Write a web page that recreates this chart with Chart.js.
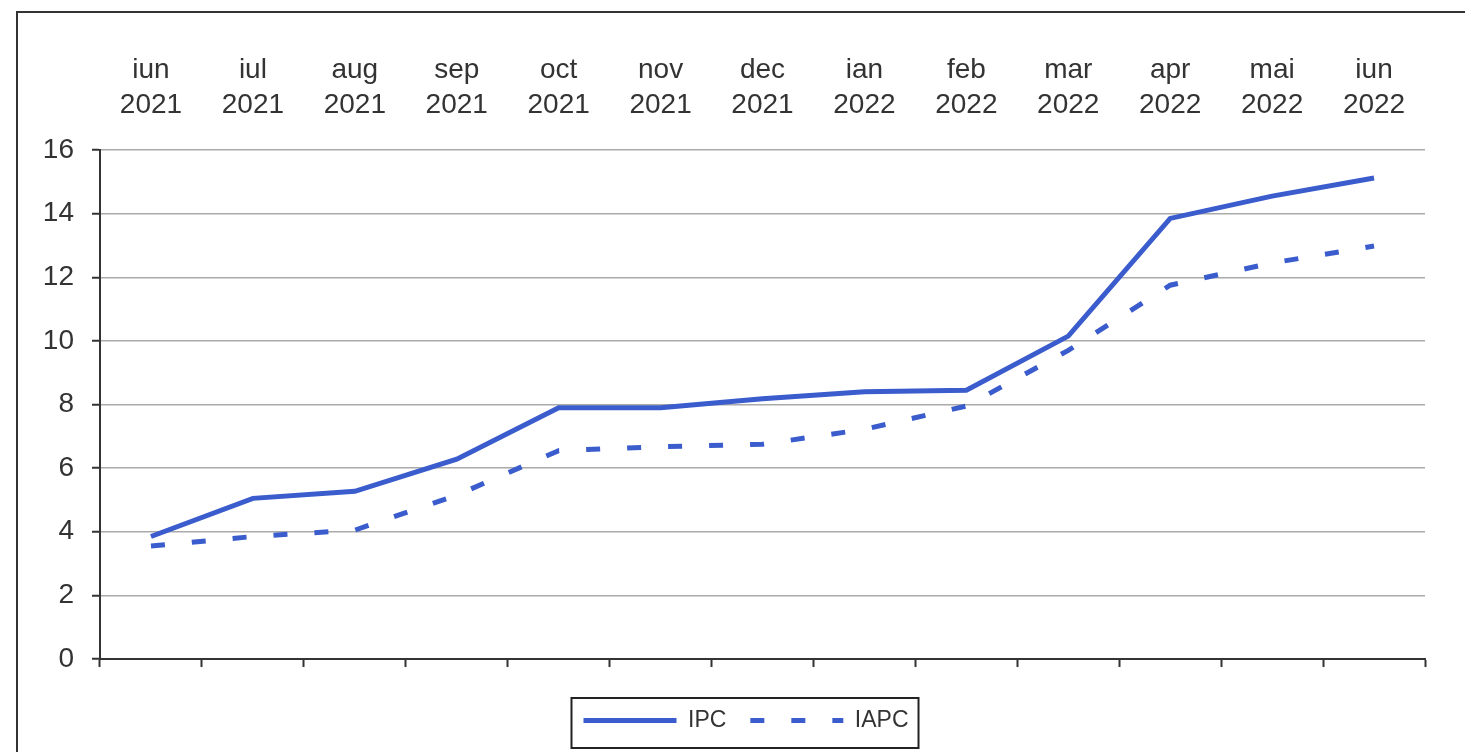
<!DOCTYPE html>
<html>
<head>
<meta charset="utf-8">
<script src="https://cdn.jsdelivr.net/npm/chart.js@4/dist/chart.umd.min.js"></script>
<style>
  html, body { margin: 0; padding: 0; background: #ffffff; }
  #wrap { position: relative; width: 1465px; height: 752px; }
</style>
</head>
<body>
<div id="wrap"><canvas id="c" width="1465" height="752"></canvas></div>
<script>
const categories = [
  ['iun', '2021'], ['iul', '2021'], ['aug', '2021'], ['sep', '2021'],
  ['oct', '2021'], ['nov', '2021'], ['dec', '2021'], ['ian', '2022'],
  ['feb', '2022'], ['mar', '2022'], ['apr', '2022'], ['mai', '2022'],
  ['iun', '2022']
];
const ipcValues  = [3.85, 5.05, 5.27, 6.28, 7.9, 7.9, 8.18, 8.4, 8.45, 10.15, 13.85, 14.55, 15.12];
const iapcValues = [3.55, 3.85, 4.05, 5.15, 6.55, 6.67, 6.75, 7.22, 7.95, 9.7, 11.75, 12.45, 12.98];
const seriesNames = ['IPC', 'IAPC'];
const yTicks = [0, 2, 4, 6, 8, 10, 12, 14, 16];

const BLUE = '#3a5ccc';
const TEXT = '#333333';
const FONT = '"Liberation Sans", Arial, sans-serif';

const framePlugin = {
  id: 'frame',
  beforeDraw(chart) {
    const ctx = chart.ctx;
    ctx.save();
    ctx.fillStyle = '#ffffff';
    ctx.fillRect(0, 0, chart.width, chart.height);
    ctx.strokeStyle = '#333333';
    ctx.lineWidth = 2;
    ctx.beginPath();
    ctx.moveTo(17, chart.height + 5);
    ctx.lineTo(17, 12);
    ctx.lineTo(chart.width + 5, 12);
    ctx.stroke();
    ctx.restore();
  }
};

// widen the y scale's clipping area so its labels are not cut
const yClipPlugin = {
  id: 'yClip',
  afterLayout(chart) {
    if (chart.scales.y) chart.scales.y.left = 0;
  }
};

const legendBoxPlugin = {
  id: 'legendBox',
  afterDraw(chart) {
    const lg = chart.legend;
    if (!lg || !lg.legendHitBoxes || !lg.legendHitBoxes.length) return;
    const hb = lg.legendHitBoxes;
    let l = Infinity, r = -Infinity, t = Infinity, b = -Infinity;
    hb.forEach(h => {
      l = Math.min(l, h.left); r = Math.max(r, h.left + h.width);
      t = Math.min(t, h.top); b = Math.max(b, h.top + h.height);
    });
    const ctx = chart.ctx;
    ctx.save();
    ctx.strokeStyle = '#222222';
    ctx.lineWidth = 2;
    ctx.strokeRect(l - 12, t - 11, (r - l) + 22, (b - t) + 27);
    ctx.restore();
  }
};

new Chart(document.getElementById('c'), {
  type: 'line',
  data: {
    labels: categories,
    datasets: [
      {
        label: seriesNames[0],
        data: ipcValues,
        borderColor: BLUE,
        backgroundColor: BLUE,
        borderWidth: 5,
        pointRadius: 0,
        tension: 0,
        xAxisID: 'x',
        yAxisID: 'y'
      },
      {
        label: seriesNames[1],
        data: iapcValues,
        borderColor: BLUE,
        backgroundColor: BLUE,
        borderWidth: 5,
        borderDash: [14, 27],
        pointRadius: 0,
        tension: 0,
        xAxisID: 'x',
        yAxisID: 'y'
      }
    ]
  },
  options: {
    responsive: false,
    animation: false,
    devicePixelRatio: 1,
    layout: { padding: { left: 67, right: 40, top: 25, bottom: 10 } },
    plugins: {
      tooltip: { enabled: false },
      legend: {
        position: 'bottom',
        labels: {
          usePointStyle: true,
          pointStyle: 'line',
          pointStyleWidth: 93,
          padding: 24,
          color: TEXT,
          font: { family: FONT, size: 23 },
          generateLabels(chart) {
            const items = Chart.defaults.plugins.legend.labels.generateLabels(chart);
            items.forEach(it => {
              const ds = chart.data.datasets[it.datasetIndex];
              it.lineDash = ds.borderDash || [];
              it.lineWidth = ds.borderWidth;
              it.strokeStyle = ds.borderColor;
              it.fontColor = TEXT;
            });
            return items;
          }
        }
      }
    },
    scales: {
      x: {
        type: 'category',
        position: 'bottom',
        offset: true,
        grid: {
          display: true,
          drawOnChartArea: false,
          drawTicks: true,
          tickLength: 8,
          tickColor: '#333333',
          tickWidth: 2,
          offset: true
        },
        border: { display: true, color: '#333333', width: 2 },
        ticks: { display: false },
        title: { display: true, text: '', font: { size: 1, lineHeight: 1 }, padding: { top: 17, bottom: 0 } }
      },
      xTop: {
        type: 'category',
        position: 'top',
        offset: true,
        grid: { display: false, drawTicks: false },
        border: { display: false },
        ticks: {
          color: TEXT,
          padding: 27.5,
          maxRotation: 0,
          autoSkip: false,
          font: { family: FONT, size: 28, lineHeight: 1.25 }
        }
      },
      y: {
        type: 'linear',
        min: 0,
        max: 16,
        afterBuildTicks(scale) { scale.ticks = yTicks.map(v => ({ value: v })); },
        afterFit(scale) { scale.width = 33; },
        grid: {
          color: '#aaaaaa',
          lineWidth: 1.5,
          drawTicks: true,
          tickLength: 8,
          tickColor: '#333333',
          tickWidth: 2
        },
        border: { display: true, color: '#333333', width: 2 },
        ticks: {
          color: TEXT,
          padding: 18,
          font: { family: FONT, size: 28 }
        }
      }
    }
  },
  plugins: [framePlugin, yClipPlugin, legendBoxPlugin]
});
</script>
</body>
</html>
